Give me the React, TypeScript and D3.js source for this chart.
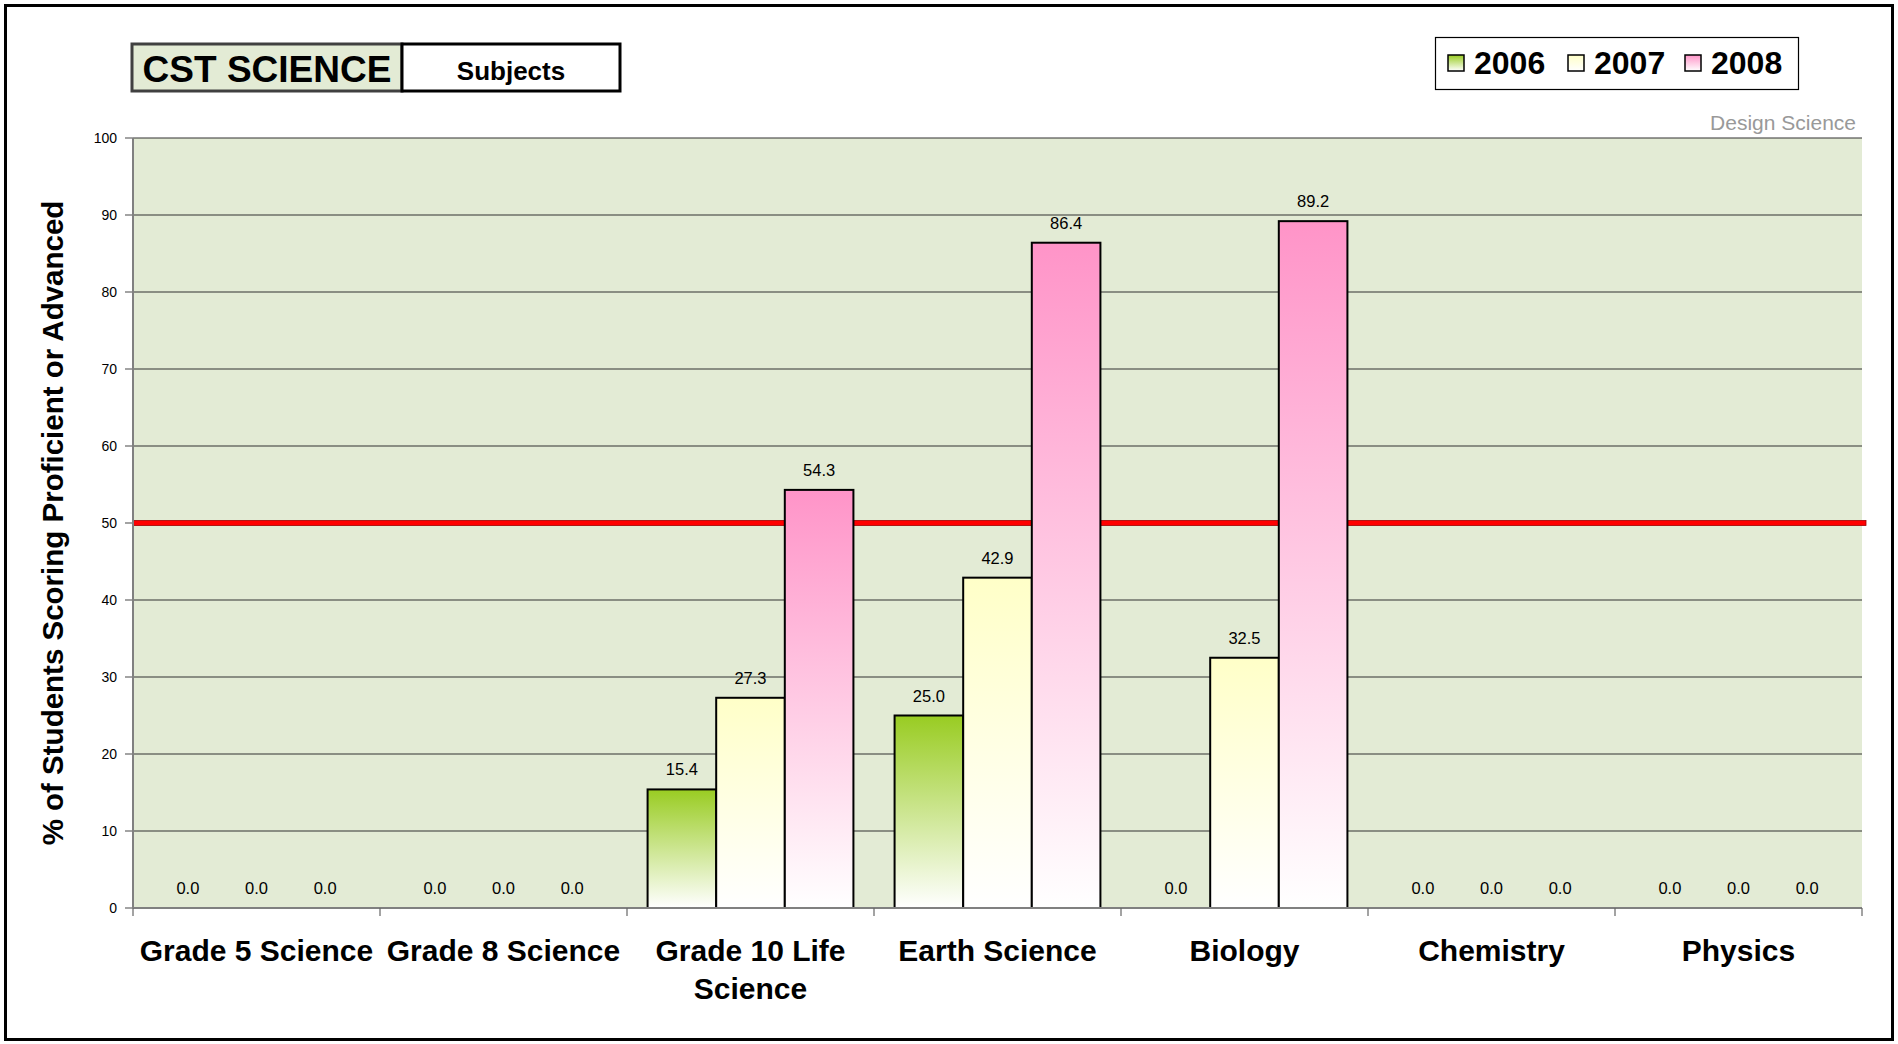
import React from "react";
import * as d3 from "d3";

const categories = [
  "Grade 5 Science",
  "Grade 8 Science",
  "Grade 10 Life Science",
  "Earth Science",
  "Biology",
  "Chemistry",
  "Physics",
];
const seriesNames = ["2006", "2007", "2008"];
const values2006 = [0, 0, 15.4, 25.0, 0, 0, 0];
const values2007 = [0, 0, 27.3, 42.9, 32.5, 0, 0];
const values2008 = [0, 0, 54.3, 86.4, 89.2, 0, 0];
const yTicks = [0, 10, 20, 30, 40, 50, 60, 70, 80, 90, 100];
const targetValue = 50;
const topColors = ["#99CC22", "#FFFFC8", "#FF94C8"];

const W = 1898;
const H = 1044;
const FONT = "'Liberation Sans', Arial, Helvetica, sans-serif";

function measure(text: string, size: number, weight: string) {
  const c = document.createElement("canvas");
  const ctx = c.getContext("2d")!;
  ctx.font = `${weight} ${size}px ${FONT}`;
  return ctx.measureText(text).width;
}

function wrap(text: string, maxW: number, size: number): string[] {
  const words = text.split(" ");
  const lines: string[] = [];
  let cur = "";
  for (const w of words) {
    const t = cur ? cur + " " + w : w;
    if (measure(t, size, "bold") > maxW && cur) {
      lines.push(cur);
      cur = w;
    } else cur = t;
  }
  if (cur) lines.push(cur);
  return lines;
}

export default function App() {
  const left = 133, right = 1862, top = 138, bottom = 908;
  const series = [values2006, values2007, values2008];

  const x0 = d3.scaleBand<string>().domain(categories).range([left, right]).padding(0);
  const cw = x0.bandwidth();
  const barW = cw / 3.6;
  const gap = (cw - 3 * barW) / 2;
  const x1 = d3.scaleBand<string>().domain(seriesNames).range([gap, cw - gap]).padding(0);
  const y = d3.scaleLinear().domain([0, 100]).range([bottom, top]);

  const labelSize = 30;

  return (
    <svg width={W} height={H} style={{ position: "absolute", left: 0, top: 0, background: "#fff" }} fontFamily={FONT}>
      <defs>
        {topColors.map((c, i) => (
          <linearGradient key={i} id={`g${i}`} x1="0" y1="0" x2="0" y2="1">
            <stop offset="0%" stopColor={c} />
            <stop offset="100%" stopColor="#FFFFFF" />
          </linearGradient>
        ))}
      </defs>
      <rect x={0} y={0} width={W} height={H} fill="#fff" />
      {/* outer border */}
      <rect x={5.5} y={5.5} width={1887} height={1034} fill="none" stroke="#000" strokeWidth={3} />

      {/* title boxes */}
      <rect x={132} y={44} width={270} height={47} fill="#E3EBD5" stroke="#404040" strokeWidth={3} />
      <text x={267} y={82} textAnchor="middle" fontSize={37} fontWeight="bold">CST SCIENCE</text>
      <rect x={402} y={44} width={218} height={47} fill="#fff" stroke="#000" strokeWidth={3} />
      <text x={511} y={80} textAnchor="middle" fontSize={26} fontWeight="bold">Subjects</text>

      {/* legend */}
      <rect x={1435.5} y={37.5} width={363} height={52} fill="#fff" stroke="#000" strokeWidth={1.2} />
      {seriesNames.map((s, i) => {
        const sx = [1448, 1568, 1685][i];
        return (
          <g key={s}>
            <rect x={sx} y={55} width={16} height={16} fill={`url(#g${i})`} stroke="#000" strokeWidth={1.5} />
            <text x={sx + 26} y={74} fontSize={32} fontWeight="bold">{s}</text>
          </g>
        );
      })}

      <text x={1856} y={130} textAnchor="end" fontSize={21} fill="#999">Design Science</text>

      {/* plot background */}
      <rect x={left} y={top} width={right - left} height={bottom - top} fill="#E3EBD5" />

      {/* gridlines */}
      {yTicks.filter((t) => t > 0).map((t) => (
        <line key={t} x1={left} x2={right} y1={y(t)} y2={y(t)} stroke="#333" strokeWidth={1.2} />
      ))}

      {/* y ticks and labels */}
      {yTicks.map((t) => (
        <g key={t}>
          <line x1={125} x2={left} y1={y(t)} y2={y(t)} stroke="#666" strokeWidth={1.2} />
          <text x={117} y={y(t) + 5} textAnchor="end" fontSize={14}>{t}</text>
        </g>
      ))}

      {/* target line */}
      <rect x={left} y={y(targetValue) - 2.5} width={right - left + 4} height={5} fill="#FF0000" stroke="#A00000" strokeWidth={0.8} />

      {/* bars */}
      {series.map((vals, si) =>
        vals.map((v, ci) => {
          const bx = x0(categories[ci])! + x1(seriesNames[si])!;
          return (
            <g key={`${si}-${ci}`}>
              {v > 0 && (
                <rect x={bx} y={y(v)} width={x1.bandwidth()} height={y(0) - y(v)} fill={`url(#g${si})`} stroke="#000" strokeWidth={2} />
              )}
              <text x={bx + x1.bandwidth() / 2} y={y(v) - 14} textAnchor="middle" fontSize={16.5}>{v.toFixed(1)}</text>
            </g>
          );
        })
      )}

      {/* axes */}
      <line x1={left} x2={left} y1={top} y2={bottom} stroke="#808080" strokeWidth={2} />
      <line x1={left} x2={right} y1={bottom} y2={bottom} stroke="#808080" strokeWidth={2} />
      {categories.map((c) => (
        <line key={c} x1={x0(c)!} x2={x0(c)!} y1={bottom} y2={bottom + 8} stroke="#666" strokeWidth={1.2} />
      ))}
      <line x1={right} x2={right} y1={bottom} y2={bottom + 8} stroke="#666" strokeWidth={1.2} />

      {/* category labels */}
      {categories.map((c) => {
        const lines = wrap(c, cw - 4, labelSize);
        return (
          <text key={c} x={x0(c)! + cw / 2} y={961} textAnchor="middle" fontSize={labelSize} fontWeight="bold">
            {lines.map((l, i) => (
              <tspan key={i} x={x0(c)! + cw / 2} dy={i === 0 ? 0 : 38}>{l}</tspan>
            ))}
          </text>
        );
      })}

      {/* y axis title */}
      <text transform={`translate(63, ${(top + bottom) / 2}) rotate(-90)`} textAnchor="middle" fontSize={29.5} fontWeight="bold">
        % of Students Scoring Proficient or Advanced
      </text>
    </svg>
  );
}
